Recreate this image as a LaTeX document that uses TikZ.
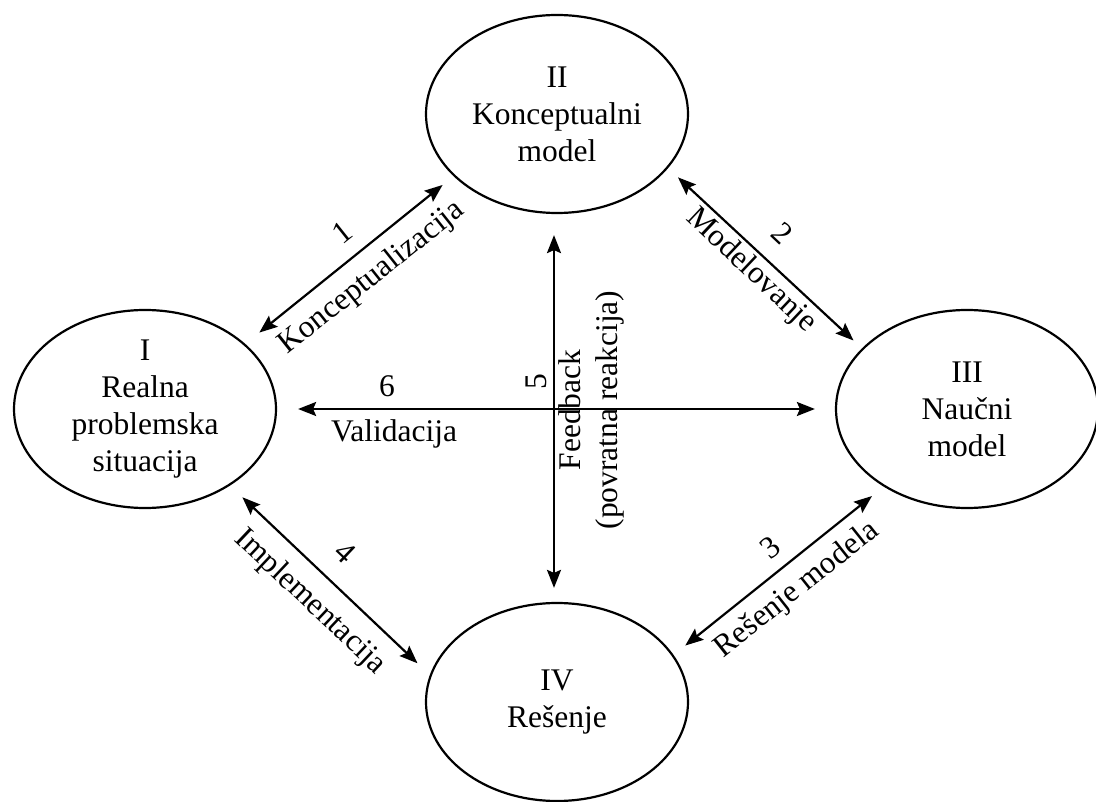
\documentclass[tikz,border=0pt]{standalone}
\usepackage{fontspec}
\setmainfont{Liberation Serif}
\usetikzlibrary{arrows.meta,shapes.geometric}
\begin{document}
\begin{tikzpicture}[x=1pt,y=-1pt,
  every node/.style={font=\fontsize{31.5}{37}\selectfont},
  stage/.style={ellipse, draw, line width=2.2pt, minimum width=262pt,
    minimum height=198pt, inner sep=0pt, align=center},
  tip/.tip={Stealth[length=18pt,width=14pt,inset=3pt]},
  link/.style={line width=2.2pt, tip-tip},
  tag/.style={inner sep=0pt, align=center}]
\useasboundingbox (0,0) rectangle (1096,802);
\fill[white] (0,0) rectangle (1096,802);

% the four stages
\node[stage] (I)   at (145,409) {I\\Realna\\problemska\\situacija};
\node[stage] (II)  at (557,114) {II\\Konceptualni\\model};
\node[stage] (III) at (967,409) {III\\Naučni\\model};
\node[stage] (IV)  at (557,702) {IV\\Rešenje};

% transitions between the stages
\draw[link, shorten <=18pt, shorten >=14pt] (I.33.6) -- (II.211.1);
\draw[link, shorten <=13.5pt, shorten >=11.5pt] (II.334.3) -- (III.150.5);
\draw[link, shorten <=15pt, shorten >=15pt] (IV.22.1) -- (III.223.1);
\draw[link, shorten <=17pt, shorten >=17pt] (I.318) -- (IV.168);
\draw[link, shorten <=21pt, shorten >=20pt] (I.east) -- (III.west);
\draw[link, shorten <=21pt, shorten >=14pt] ([xshift=-3pt]II.south) -- ([xshift=-3pt]IV.north);

% transition labels
\node[tag, rotate=38.5] (n1) at (342,232) {1};
\node[tag, rotate=38.5] (t1) at (372,278) {Konceptualizacija};
\node[tag, rotate=-43.3] (n2) at (782,233) {2};
\node[tag, rotate=-43.3] (t2) at (751,271) {Modelovanje};
\node[tag, rotate=38.4] (n3) at (770,548) {3};
\node[tag, rotate=38.4] (t3) at (797,590) {Rešenje modela};
\node[tag, rotate=-43.3] (n4) at (345,552) {4};
\node[tag, rotate=-43.3] (t4) at (310,602) {Implementacija};
\node[tag, rotate=90] (n5) at (536,382) {5};
\node[tag, rotate=90] (t5) at (591,410) {Feedback\\(povratna reakcija)};
\node[tag] (n6) at (387,386) {6};
\node[tag] (t6) at (394,434) {Validacija};
\end{tikzpicture}
\end{document}
